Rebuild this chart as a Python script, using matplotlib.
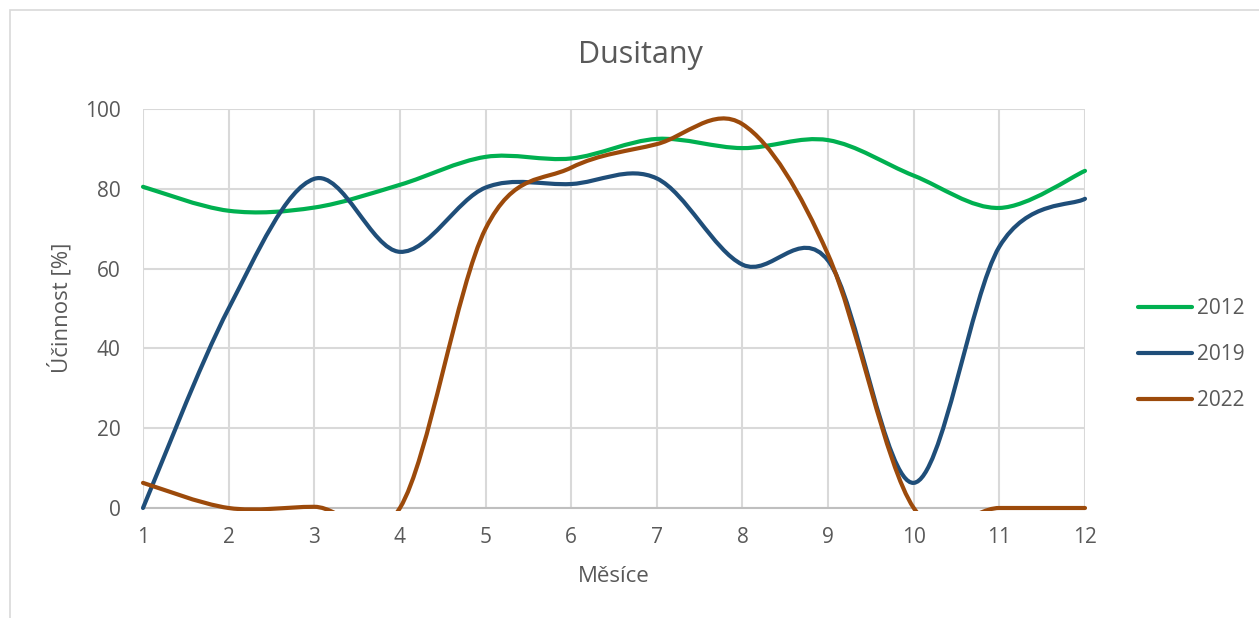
import numpy as np
import matplotlib.pyplot as plt
from matplotlib.path import Path
from matplotlib.patches import PathPatch, Rectangle
from matplotlib.lines import Line2D

plt.rcParams['font.family'] = ['Open Sans', 'DejaVu Sans']

months = [1, 2, 3, 4, 5, 6, 7, 8, 9, 10, 11, 12]
eff_2012 = [80.5, 74.5, 75.3, 81, 88, 87.6, 92.5, 90.2, 92.2, 83.3, 75.2, 84.5]
eff_2019 = [0, 50, 82.5, 64.2, 80.3, 81.2, 82.6, 61, 62, 6.3, 65.5, 77.5]
eff_2022 = [6.3, 0, 0.3, 0, 70, 85.3, 91.2, 96.2, 63.5, 0, 0, 0]

series = [('2012', eff_2012, '#00b050'),
          ('2019', eff_2019, '#1f4e79'),
          ('2022', eff_2022, '#9c4a0b')]

text_color = '#595959'
grid_color = '#d9d9d9'


def smooth_path(x, y):
    # bezier segments like the "smoothed line" option in Excel
    pts = np.column_stack([x, y]).astype(float)
    n = len(pts)
    verts = [pts[0]]
    codes = [Path.MOVETO]
    for i in range(n - 1):
        p_prev = pts[i - 1] if i > 0 else pts[i]
        p_next2 = pts[i + 2] if i + 2 < n else pts[i + 1]
        c1 = pts[i] + (pts[i + 1] - p_prev) / 6
        c2 = pts[i + 1] - (p_next2 - pts[i]) / 6
        verts += [c1, c2, pts[i + 1]]
        codes += [Path.CURVE4] * 3
    return Path(verts, codes)


fig = plt.figure(figsize=(12.59, 6.18), dpi=100)
ax = fig.add_axes([143 / 1259, 1 - 508 / 618, 942 / 1259, 399 / 618])

fig.add_artist(Rectangle((10 / 1259, -0.1), 1.2, 1.1 - 10 / 618, transform=fig.transFigure,
                         fill=False, edgecolor=grid_color, linewidth=1.2))

clip = Rectangle((-0.01, -0.008), 1.02, 1.02, transform=ax.transAxes, visible=False)
ax.add_patch(clip)

handles = []
for name, vals, col in series:
    patch = PathPatch(smooth_path(months, vals), fill=False, edgecolor=col,
                      linewidth=3, capstyle='round', joinstyle='round', zorder=3)
    ax.add_patch(patch)
    patch.set_clip_path(clip)
    handles.append(Line2D([], [], color=col, linewidth=3, solid_capstyle='round'))

ax.set_xlim(1, 12)
ax.set_ylim(0, 100)
ax.set_xticks(months)
ax.set_yticks([0, 20, 40, 60, 80, 100])
ax.grid(True, color=grid_color, linewidth=1.5)
ax.set_axisbelow(True)
for s in ['top', 'right', 'left']:
    ax.spines[s].set_visible(False)
ax.spines['bottom'].set_color('#bfbfbf')
ax.spines['bottom'].set_linewidth(1.5)
ax.tick_params(axis='both', length=0, labelsize=15, labelcolor=text_color)
ax.tick_params(axis='y', pad=16)
ax.tick_params(axis='x', pad=14)

fig.text(640 / 1259, 1 - 55 / 618, 'Dusitany', fontsize=22, color=text_color,
         ha='center', va='center')
fig.text(614 / 1259, 1 - 577 / 618, 'Měsíce', fontsize=16, color=text_color,
         ha='center', va='center')
fig.text(60 / 1259, 1 - 308 / 618, 'Účinnost [%]', fontsize=16, color=text_color,
         ha='center', va='center', rotation=90)

fig.legend(handles, [s[0] for s in series], loc='center left',
           bbox_to_anchor=(1119 / 1259, 1 - 355 / 618), frameon=False,
           fontsize=15, labelcolor=text_color, handlelength=2.6,
           handletextpad=0.25, labelspacing=1.2)

fig.savefig('out.png', dpi=100)
